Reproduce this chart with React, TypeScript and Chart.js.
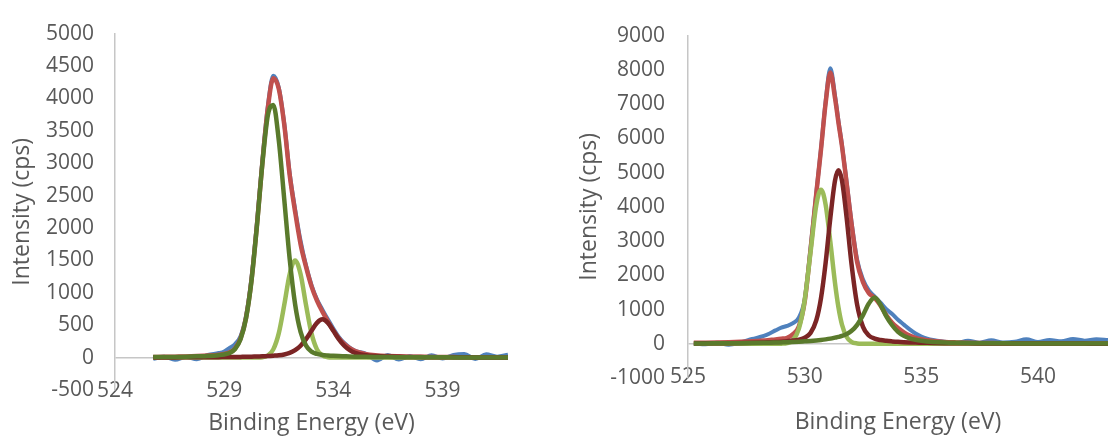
import React, { useEffect, useRef } from "react";
import { Chart, registerables } from "chart.js";

Chart.register(...registerables);

// ---------- Left spectrum ----------
const ENERGY_L = [
  525.75, 526.25, 526.75, 527.25, 527.75, 528.25, 528.75,
  529.0, 529.25, 529.5, 529.75, 530.0, 530.25, 530.5, 530.75, 531.0, 531.25, 531.5, 531.75,
  532.0, 532.25, 532.5, 532.75, 533.0, 533.25, 533.5, 533.75, 534.0, 534.25, 534.5, 534.75, 535.0,
  535.5, 536.0, 536.5, 537.0, 537.5, 538.0, 538.5, 539.0, 539.5, 540.0, 540.5, 541.0, 541.5, 542.0,
];
const RAW_L = [
  -20, 15, -35, 10, -25, 40, 70,
  95, 150, 210, 330, 640, 1230, 2080, 3050, 3880, 4350, 4170, 3620,
  2850, 2290, 1800, 1420, 1120, 900, 740, 590, 450, 320, 225, 155, 105,
  60, -45, 40, -30, 20, -25, 35, -15, 40, 55, -20, 50, 15, 45,
];
const ENVELOPE_L = [
  10, 12, 15, 18, 23, 31, 44,
  56, 81, 143, 293, 615, 1194, 2045, 3010, 3850, 4310, 4150, 3600,
  2820, 2250, 1750, 1400, 1100, 880, 710, 560, 420, 300, 210, 145, 100,
  52, 33, 24, 19, 15, 13, 10, 9, 8, 6, 6, 5, 4, 4,
];
const PEAK_A_L = [
  8, 9, 11, 14, 19, 25, 37,
  48, 72, 133, 282, 603, 1180, 2027, 2990, 3740, 3900, 3357, 2450,
  1525, 821, 396, 184, 92, 56, 41, 33, 27, 23, 20, 17, 15,
  12, 10, 8, 7, 6, 5, 4, 4, 3, 3, 3, 2, 2, 2,
];
const PEAK_B_L = [
  0, 0, 0, 0, 0, 0, 0,
  0, 0, 0, 0, 0, 0, 1, 6, 32, 127, 374, 809,
  1286, 1500, 1286, 809, 374, 127, 32, 6, 1, 0, 0, 0, 0,
  0, 0, 0, 0, 0, 0, 0, 0, 0, 0, 0, 0, 0, 0,
];
const PEAK_C_L = [
  3, 3, 3, 4, 5, 6, 7,
  8, 9, 10, 11, 12, 14, 17, 19, 23, 29, 36, 49,
  72, 114, 183, 285, 414, 536, 590, 536, 414, 285, 183, 114, 72,
  36, 23, 17, 12, 10, 8, 6, 5, 4, 4, 3, 3, 2, 2,
];
const X_TICKS_L = [524, 529, 534, 539];

// ---------- Right spectrum ----------
const ENERGY_R = [
  525.25, 525.75, 526.25, 526.75, 527.25, 527.75, 528.25,
  528.5, 528.75, 529.0, 529.25, 529.5, 529.75, 530.0, 530.25, 530.5,
  530.7, 530.9, 531.1, 531.3, 531.45, 531.6, 531.8,
  532.0, 532.25, 532.5, 532.75, 533.0, 533.25, 533.5, 533.75, 534.0, 534.25, 534.5, 534.75, 535.0, 535.25, 535.5,
  536.0, 536.5, 537.0, 537.5, 538.0, 538.5, 539.0, 539.5, 540.0, 540.5, 541.0, 541.5, 542.0, 542.5, 543.0,
];
const RAW_R = [
  10, -15, 30, -30, 40, 140, 230,
  300, 390, 470, 520, 600, 760, 1300, 2780, 4420,
  5700, 7080, 8050, 7250, 6500, 5800, 4720,
  3600, 2450, 1880, 1560, 1380, 1200, 1010, 870, 700, 560, 420, 300, 210, 150, 110,
  60, 20, 90, 30, 100, 40, 60, 130, 50, 110, 70, 140, 90, 130, 110,
];
const ENVELOPE_R = [
  28, 32, 38, 46, 57, 72, 95,
  110, 125, 145, 175, 280, 505, 1230, 2730, 4400,
  5676, 7040, 7920, 7180, 6450, 5770, 4680,
  3550, 2380, 1800, 1480, 1340, 1120, 830, 610, 460, 335, 240, 175, 130, 100, 80,
  52, 39, 31, 25, 21, 18, 16, 14, 12, 11, 10, 9, 8, 8, 7,
];
const PEAK_A_R = [
  0, 0, 0, 0, 0, 0, 0,
  0, 0, 3, 20, 109, 437, 1269, 2667, 4058,
  4500, 4058, 2976, 1775, 1052, 555, 197,
  57, 9, 1, 0, 0, 0, 0, 0, 0, 0, 0, 0, 0, 0, 0,
  0, 0, 0, 0, 0, 0, 0, 0, 0, 0, 0, 0, 0, 0, 0,
];
const PEAK_B_R = [
  10, 12, 14, 17, 21, 27, 36,
  43, 50, 61, 75, 93, 122, 176, 312, 687,
  1332, 2374, 3673, 4767, 5070, 4767, 3673,
  2374, 1135, 493, 241, 150, 108, 85, 69, 56, 47, 40, 34, 30, 26, 23,
  18, 15, 12, 10, 9, 8, 7, 6, 5, 5, 4, 4, 4, 3, 3,
];
const PEAK_C_R = [
  10, 11, 13, 15, 18, 22, 27,
  30, 35, 40, 45, 52, 60, 70, 80, 95,
  110, 128, 150, 178, 200, 228, 285,
  370, 552, 836, 1174, 1350, 1140, 800, 540, 345, 230, 160, 115, 85, 66, 52,
  36, 27, 21, 17, 14, 12, 10, 9, 8, 7, 6, 6, 5, 5, 4,
];
const X_TICKS_R = [525, 530, 535, 540];

// ---------- Styles ----------
const BLUE = "#4F81BD";
const RED = "#C0504D";
const LIGHT_GREEN = "#9BBB59";
const DARK_GREEN = "#5A7A2C";
const DARK_RED = "#7B2525";
const AXIS_COLOR = "#C6C6C6";
const TEXT_COLOR = "#595959";
const FONT = "'Open Sans', sans-serif";
const TICK_SIZE = 21;
const TITLE_SIZE = 23;

type SeriesDef = { values: number[]; color: string; width: number };

type PanelProps = {
  left: number;
  width: number;
  height: number;
  energy: number[];
  series: SeriesDef[]; // listed top-most first
  xMin: number;
  xMax: number;
  xTicks: number[];
  yMin: number;
  yMax: number;
  yStep: number;
  plotLeft: number;
  plotRight: number;
  plotTop: number;
  plotBottom: number;
  yTitleCenter: number;
  xTitleCenter: number;
  xLabelCenter: number;
  yLabelGap: number;
};

function Panel(p: PanelProps) {
  const ref = useRef<HTMLCanvasElement | null>(null);

  useEffect(() => {
    if (!ref.current) return;
    const titleLH = TITLE_SIZE * 1.2;
    const tickLH = TICK_SIZE * 1.2;
    const chart = new Chart(ref.current, {
      type: "line",
      data: {
        datasets: p.series.map((s) => ({
          data: p.energy.map((x, i) => ({ x, y: s.values[i] })),
          borderColor: s.color,
          backgroundColor: s.color,
          borderWidth: s.width,
          pointRadius: 0,
          fill: false,
          cubicInterpolationMode: "monotone" as const,
        })),
      },
      options: {
        responsive: false,
        animation: false,
        events: [],
        layout: {
          padding: { left: 0, right: p.width - p.plotRight, top: p.plotTop, bottom: 0 },
        },
        plugins: { legend: { display: false }, tooltip: { enabled: false } },
        scales: {
          x: {
            type: "linear",
            position: "bottom",
            min: p.xMin,
            max: p.xMax,
            afterBuildTicks: (s: any) => {
              s.ticks = p.xTicks.map((v) => ({ value: v }));
            },
            afterFit: (s: any) => {
              s.height = p.height - p.plotBottom;
            },
            grid: { display: false, drawTicks: false },
            border: { display: false },
            ticks: {
              autoSkip: false,
              maxRotation: 0,
              mirror: true,
              padding: p.plotBottom - p.xLabelCenter - tickLH / 2,
              color: TEXT_COLOR,
              font: { family: FONT, size: TICK_SIZE },
              callback: (v: any) => String(v),
            },
            title: {
              display: true,
              text: "Binding Energy (eV)",
              color: TEXT_COLOR,
              font: { family: FONT, size: TITLE_SIZE },
              padding: { top: 0, bottom: p.height - p.xTitleCenter - titleLH / 2 },
            },
          },
          y: {
            type: "linear",
            position: "left",
            min: p.yMin,
            max: p.yMax,
            afterFit: (s: any) => {
              s.width = p.plotLeft;
            },
            grid: {
              drawTicks: false,
              lineWidth: 1.5,
              color: (ctx: any) =>
                ctx.tick && ctx.tick.value === 0 ? AXIS_COLOR : "rgba(0,0,0,0)",
            },
            border: { display: true, color: AXIS_COLOR, width: 1.5 },
            ticks: {
              stepSize: p.yStep,
              padding: p.yLabelGap,
              color: TEXT_COLOR,
              font: { family: FONT, size: TICK_SIZE },
              callback: (v: any) => String(v),
            },
            title: {
              display: true,
              text: "Intensity (cps)",
              color: TEXT_COLOR,
              font: { family: FONT, size: TITLE_SIZE },
              padding: { top: p.yTitleCenter - titleLH / 2, bottom: 0 },
            },
          },
        },
      },
    });
    return () => chart.destroy();
  }, []);

  return (
    <canvas
      ref={ref}
      width={p.width}
      height={p.height}
      style={{ position: "absolute", left: p.left, top: 0, width: p.width, height: p.height }}
    />
  );
}

export default function App() {
  return (
    <div
      style={{
        position: "absolute",
        left: 0,
        top: 0,
        width: 1108,
        height: 437,
        background: "#ffffff",
        overflow: "hidden",
      }}
    >
      <Panel
        left={0}
        width={560}
        height={437}
        energy={ENERGY_L}
        series={[
          { values: PEAK_A_L, color: DARK_GREEN, width: 4.5 },
          { values: PEAK_C_L, color: DARK_RED, width: 4.5 },
          { values: PEAK_B_L, color: LIGHT_GREEN, width: 4.5 },
          { values: ENVELOPE_L, color: RED, width: 4.5 },
          { values: RAW_L, color: BLUE, width: 4 },
        ]}
        xMin={524}
        xMax={542}
        xTicks={X_TICKS_L}
        yMin={-500}
        yMax={5000}
        yStep={500}
        plotLeft={115}
        plotRight={508}
        plotTop={30}
        plotBottom={390}
        yTitleCenter={22}
        xTitleCenter={423}
        xLabelCenter={391}
        yLabelGap={21}
      />
      <Panel
        left={560}
        width={548}
        height={437}
        energy={ENERGY_R}
        series={[
          { values: PEAK_C_R, color: DARK_GREEN, width: 4.5 },
          { values: PEAK_B_R, color: DARK_RED, width: 4.5 },
          { values: PEAK_A_R, color: LIGHT_GREEN, width: 4.5 },
          { values: ENVELOPE_R, color: RED, width: 4.5 },
          { values: RAW_R, color: BLUE, width: 4 },
        ]}
        xMin={525}
        xMax={543}
        xTicks={X_TICKS_R}
        yMin={-1000}
        yMax={9000}
        yStep={1000}
        plotLeft={128}
        plotRight={548}
        plotTop={22}
        plotBottom={378}
        yTitleCenter={29}
        xTitleCenter={422}
        xLabelCenter={377}
        yLabelGap={23}
      />
    </div>
  );
}
